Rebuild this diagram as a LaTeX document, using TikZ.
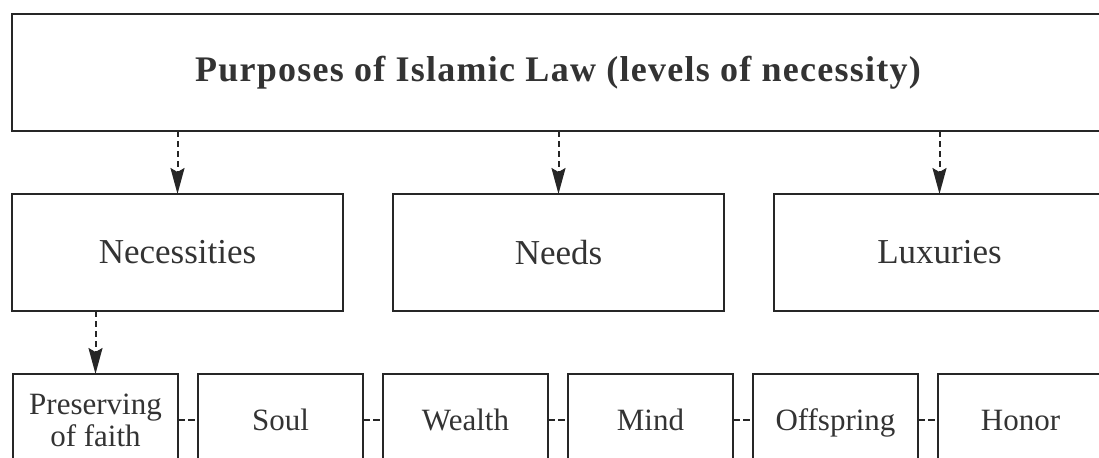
\documentclass[tikz,border=0pt]{standalone}
\usepackage{fontspec}
\setmainfont{Liberation Serif}
\newfontfamily\titlefont[LetterSpace=3.5]{Liberation Serif}
\usetikzlibrary{arrows.meta,positioning}

\begin{document}
\begin{tikzpicture}[
  x=0.5pt, y=-0.5pt,
  box/.style={draw=black!85, line width=1.3pt, outer sep=0pt, inner sep=0pt,
    align=center, text=black!80},
  topbox/.style={box, minimum width=546pt, minimum height=58.5pt,
    font=\titlefont\fontsize{18}{21}\selectfont\bfseries},
  midbox/.style={box, minimum width=165.5pt, minimum height=58.5pt,
    font=\fontsize{17.5}{20}\selectfont},
  lowbase/.style={box, minimum width=82.5pt, minimum height=46pt,
    font=\fontsize{15.5}{16}\selectfont},
  lowbox/.style={lowbase, text height=14pt, text depth=3.5pt},
  arr/.style={-{Stealth[length=13pt, width=7pt, inset=2pt]}, line width=1pt,
    dash pattern=on 3pt off 2pt, draw=black!85},
  link/.style={line width=1pt, dash pattern=on 3.5pt off 1.5pt, draw=black!85}
]
\useasboundingbox (0,0) rectangle (1099,457);
\clip (0,0) rectangle (1099,457);
\node[topbox] (purposes) at (558,72.5) {Purposes of Islamic Law (levels of necessity)};
\node[midbox, below=31.5pt of purposes.south west, anchor=north west] (necessities) {Necessities};
\node[midbox, right=25pt of necessities] (needs) {Needs};
\node[midbox, right=25pt of needs] (luxuries) {Luxuries};
\node[lowbase, below=31.5pt of necessities.south west, anchor=north west, xshift=0.5pt] (faith) {Preserving\\of faith};
\node[lowbox, right=10pt of faith] (soul) {Soul};
\node[lowbox, right=10pt of soul] (wealth) {Wealth};
\node[lowbox, right=10pt of wealth] (mind) {Mind};
\node[lowbox, right=10pt of mind] (offspring) {Offspring};
\node[lowbox, right=10pt of offspring] (honor) {Honor};
\draw[arr] (purposes.south -| necessities.north) -- (necessities.north);
\draw[arr] (purposes.south -| needs.north) -- (needs.north);
\draw[arr] (purposes.south -| luxuries.north) -- (luxuries.north);
\draw[arr] (necessities.south -| faith.north) -- (faith.north);
\draw[link] (faith) -- (soul);
\draw[link] (soul) -- (wealth);
\draw[link] (wealth) -- (mind);
\draw[link] (mind) -- (offspring);
\draw[link] (offspring) -- (honor);
\end{tikzpicture}
\end{document}
